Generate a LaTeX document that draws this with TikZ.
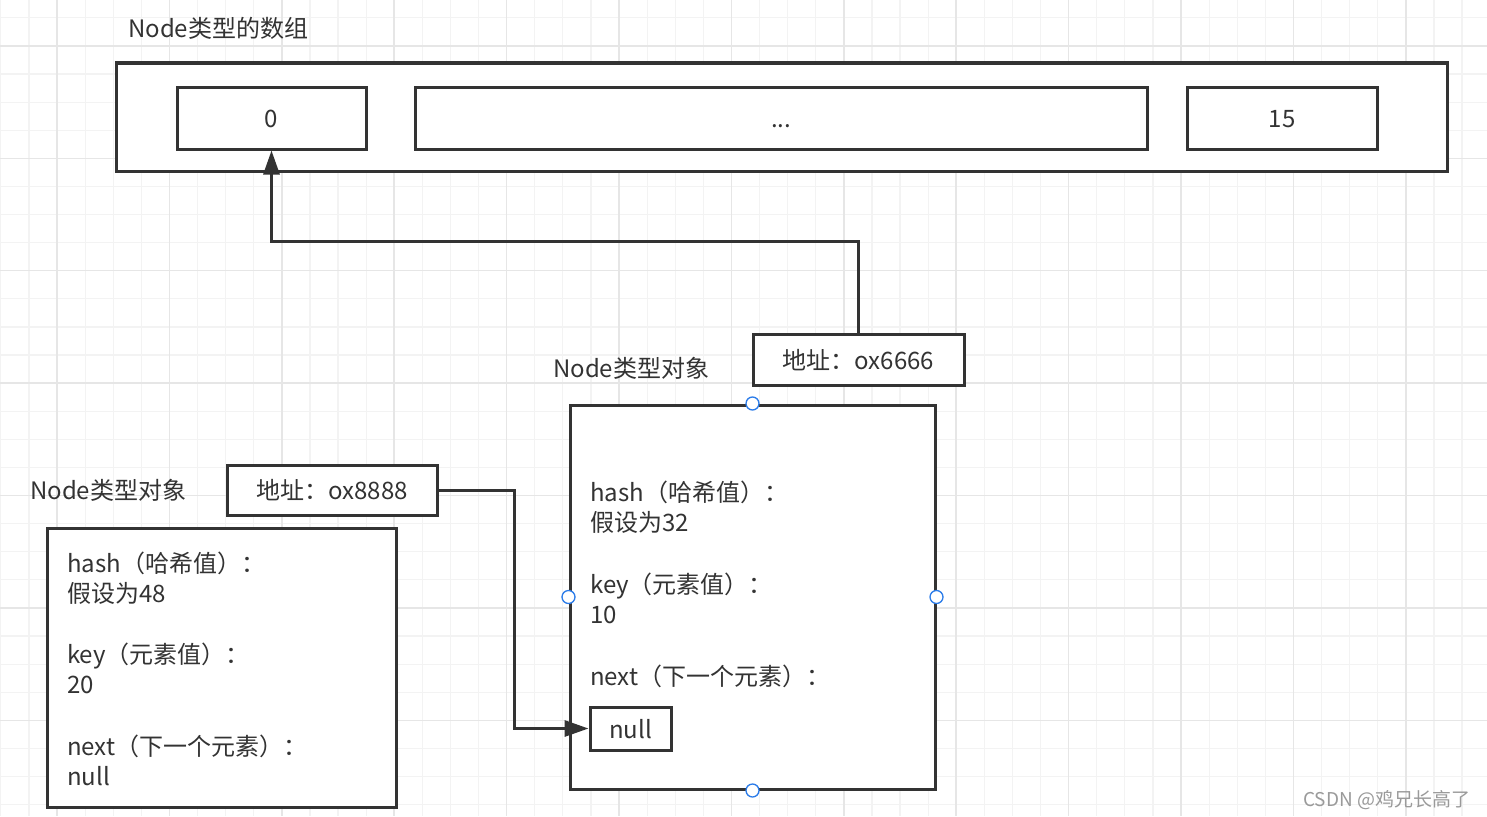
\documentclass[tikz,border=0pt]{standalone}
\usepackage{fontspec}
\setmainfont{Noto Sans CJK SC}
\usetikzlibrary{arrows.meta}
\definecolor{ink}{HTML}{333333}
\definecolor{gminor}{HTML}{F3F3F3}
\definecolor{gmajor}{HTML}{E6E6E6}
\definecolor{handlec}{HTML}{2B7CE9}
\definecolor{wmgray}{HTML}{9A9A9A}
\tikzset{
  box/.style={draw=ink, line width=3pt, fill=white, inner sep=0pt, text height=22pt, text depth=3pt},
  cell/.style={box, minimum height=62pt},
  lbl/.style={inner sep=0pt, text height=22pt, text depth=3pt, anchor=west},
  conn/.style={draw=ink, line width=3pt, -{Triangle[length=24pt,width=16pt]}},
  handle/.style={circle, draw=handlec, fill=white, line width=1.3pt, minimum size=13pt, inner sep=0pt},
}
\begin{document}
\begin{tikzpicture}[x=1pt, y={(0pt,-1pt)}, font=\fontsize{24}{28}\selectfont, text=ink]
\useasboundingbox (0,0) rectangle (1487,816);
\fill[white] (0,0) rectangle (1487,816);
% grid
\foreach \i in {0,...,52} \draw[gminor, line width=1.2pt] ({0.8+28.1*\i},0) -- ++(0,816);
\foreach \j in {0,...,28} \draw[gminor, line width=1.2pt] (0,{17.8+28.1*\j}) -- ++(1487,0);
\foreach \i in {0,...,12} \draw[gmajor, line width=1.5pt] ({57+112.4*\i},0) -- ++(0,816);
\foreach \j in {0,...,6} \draw[gmajor, line width=1.5pt] (0,{45.9+112.4*\j}) -- ++(1487,0);

% array
\node[lbl] (title) at (128,28) {Node类型的数组};
\node[box, minimum width=1331pt, minimum height=108pt] (arr) at (781.5,117) {};
\node[cell, minimum width=189pt] (c0) at (271.5,118) {0};
\node[cell, minimum width=732pt] (cdots) at (781,118) {...};
\node[cell, minimum width=190pt] (c15) at (1282,118) {15};

% right object
\node[lbl] (lblR) at (553,368) {Node类型对象};
\node[box, minimum width=211pt, minimum height=51pt] (a6666) at (858.5,359.5) {地址：ox6666};
\node[box, minimum width=365pt, minimum height=384pt] (objR) at (752.5,597) {};
\node[lbl] (rh1) at (590,492) {hash（哈希值）：};
\node[lbl] (rh2) at (590,522) {假设为32};
\node[lbl] (rk1) at (590,584) {key（元素值）：};
\node[lbl] (rk2) at (590,614) {10};
\node[lbl] (rn1) at (590,676) {next（下一个元素）：};
\node[box, minimum width=81pt, minimum height=43pt] (nullR) at (630.5,728.5) {null};

% left object
\node[lbl] (lblL) at (30,490) {Node类型对象};
\node[box, minimum width=210pt, minimum height=50pt] (a8888) at (332,490) {地址：ox8888};
\node[box, minimum width=349pt, minimum height=279pt] (objL) at (221.5,667.5) {};
\node[lbl] (lh1) at (67,563) {hash（哈希值）：};
\node[lbl] (lh2) at (67,593) {假设为48};
\node[lbl] (lk1) at (67,654) {key（元素值）：};
\node[lbl] (lk2) at (67,684) {20};
\node[lbl] (ln1) at (67,746) {next（下一个元素）：};
\node[lbl] (ln2) at (67,776) {null};

% connectors
\coordinate (bend) at (0,241);
\draw[conn] (a6666.north) -- (a6666.north |- bend) -| (c0.south);
\coordinate (jog) at (514,0);
\draw[conn] (a8888.east) -- (a8888.east -| jog) -- (jog |- nullR.west) -- (nullR.west);

% handles
\node[handle] (hN) at (objR.north) {};
\node[handle] (hW) at (objR.west) {};
\node[handle] (hE) at (objR.east) {};
\node[handle] (hS) at (objR.south) {};

% watermark
\node[lbl, font=\fontsize{19}{22}\selectfont, text=wmgray] (wm) at (1303,797) {CSDN @鸡兄长高了};
\end{tikzpicture}
\end{document}
